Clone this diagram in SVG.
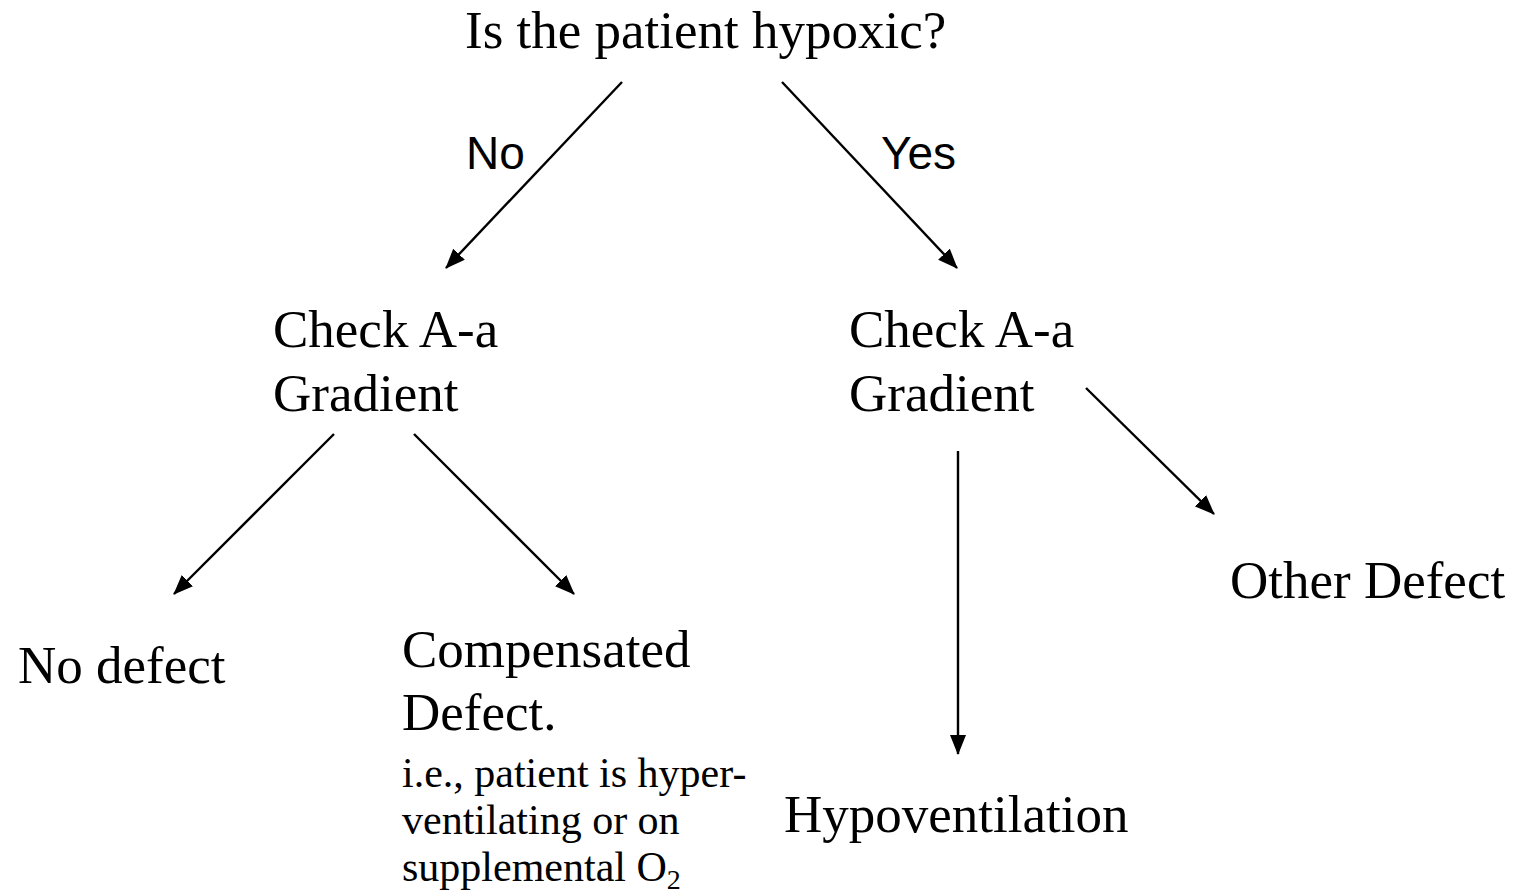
<svg xmlns="http://www.w3.org/2000/svg" width="1520" height="895" viewBox="0 0 1520 895">
<style>
.t{font-family:"Liberation Serif","Times New Roman",serif;font-size:53px;fill:#000}
.s{font-family:"Liberation Serif","Times New Roman",serif;font-size:42px;fill:#000}
.l{font-family:"Liberation Sans",Arial,sans-serif;font-size:46px;fill:#000}
.c{stroke:#000;stroke-width:2.4;fill:none;marker-end:url(#ah)}
</style>
<defs>
<marker id="ah" markerUnits="userSpaceOnUse" markerWidth="20" markerHeight="16" refX="19" refY="8" orient="auto">
<path d="M0,0 L20,8 L0,16 Z" fill="#000"/>
</marker>
</defs>
<rect width="1520" height="895" fill="#fff"/>
<g id="connectors">
<line class="c" x1="622" y1="82" x2="446" y2="268"/>
<line class="c" x1="782" y1="82" x2="957" y2="268"/>
<line class="c" x1="334" y1="434" x2="174" y2="594"/>
<line class="c" x1="414" y1="434" x2="574" y2="594"/>
<line class="c" x1="958" y1="451" x2="958" y2="754"/>
<line class="c" x1="1086" y1="388" x2="1214" y2="514"/>
<text class="l" x="466" y="169">No</text>
<text class="l" x="881" y="169">Yes</text>
</g>
<g id="root"><text class="t" x="465" y="48">Is the patient hypoxic?</text></g>
<g id="checkLeft"><text class="t" x="273" y="347">Check A-a</text><text class="t" x="273" y="411">Gradient</text></g>
<g id="checkRight"><text class="t" x="849" y="347">Check A-a</text><text class="t" x="849" y="411">Gradient</text></g>
<g id="noDefect"><text class="t" x="18" y="683">No defect</text></g>
<g id="compensated">
<text class="t" x="402" y="667">Compensated</text>
<text class="t" x="402" y="730">Defect.</text>
<text class="s" x="402" y="787">i.e., patient is hyper-</text>
<text class="s" x="402" y="834">ventilating or on</text>
<text class="s" x="402" y="881">supplemental O<tspan font-size="28" dy="8">2</tspan></text>
</g>
<g id="hypoventilation"><text class="t" x="784" y="832">Hypoventilation</text></g>
<g id="otherDefect"><text class="t" x="1230" y="598">Other Defect</text></g>
</svg>
